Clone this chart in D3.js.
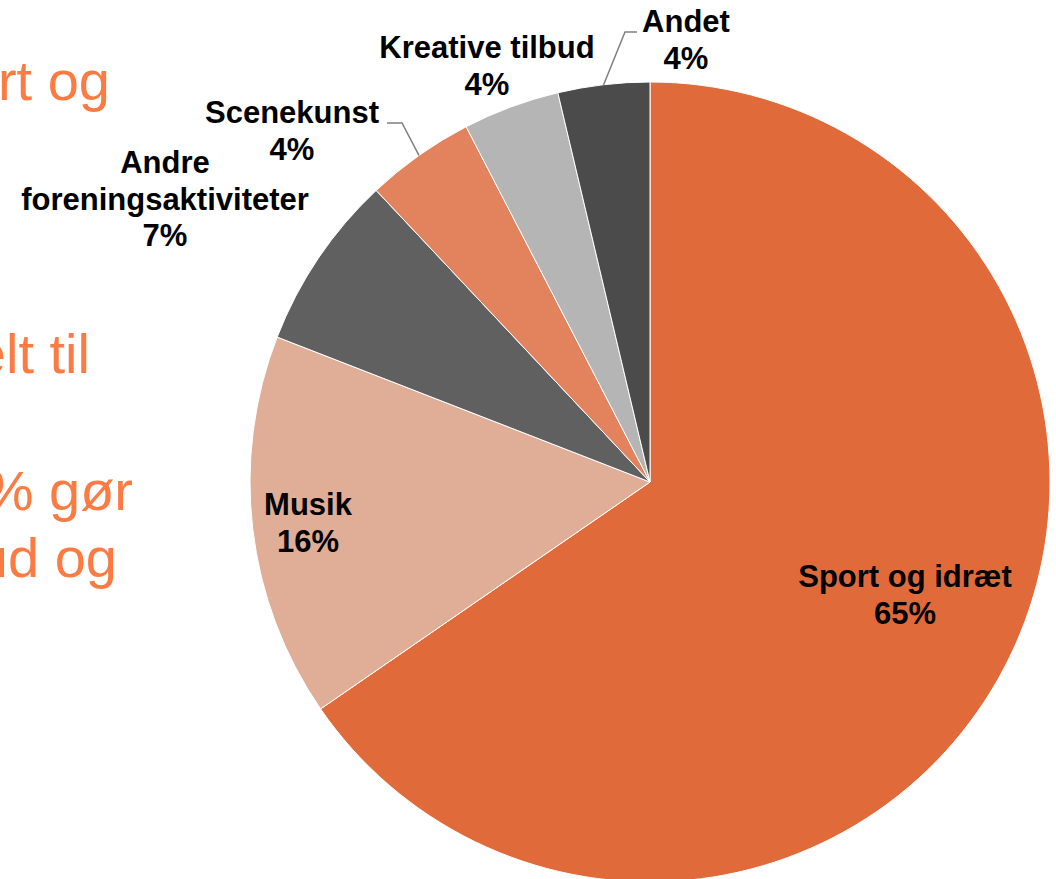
<!DOCTYPE html>
<html>
<head>
<meta charset="utf-8">
<script src="https://cdn.jsdelivr.net/npm/d3@7"></script>
<style>
  body { margin: 0; background: #fff; }
  svg { display: block; }
</style>
</head>
<body>
<svg width="1056" height="879"></svg>
<script>
// slices, clockwise from 12 o'clock
var categories = ["Sport og idræt", "Musik", "Andre foreningsaktiviteter", "Scenekunst", "Kreative tilbud", "Andet"];
var labelLines = [["Sport og idræt"], ["Musik"], ["Andre", "foreningsaktiviteter"], ["Scenekunst"], ["Kreative tilbud"], ["Andet"]];
var values = [65.4, 15.5, 7.1, 4.4, 3.9, 3.7];
var colors = ["#E06A3A", "#E0AD97", "#606060", "#E3835D", "#B5B5B5", "#4B4B4B"];

// slide text left behind the chart (clipped at the left edge)
var slideLines = ["rt og", "elt til", "% gør", "ud og"];

var svg = d3.select("svg"),
    cx = 650, cy = 482, radius = 400;

// background slide text
var slideLayout = [{x: 110, y: 100}, {x: 90, y: 373}, {x: 133, y: 510}, {x: 117, y: 577}];
svg.append("g").selectAll("text")
  .data(slideLines)
  .enter().append("text")
    .attr("x", function(d, i) { return slideLayout[i].x; })
    .attr("y", function(d, i) { return slideLayout[i].y; })
    .attr("text-anchor", "end")
    .style("font-family", "'Liberation Sans', Arial, sans-serif")
    .style("font-size", "56px")
    .style("fill", "#FB7B43")
    .text(function(d) { return d; });

var g = svg.append("g").attr("transform", "translate(" + cx + "," + cy + ")");

var pie = d3.pie().sort(null).value(function(d) { return d; });
var arcs = pie(values);
var arc = d3.arc().innerRadius(0).outerRadius(radius);

g.selectAll("path")
  .data(arcs)
  .enter().append("path")
    .attr("d", arc)
    .attr("fill", function(d, i) { return colors[i]; })
    .attr("stroke", "#fff")
    .attr("stroke-width", 1);

// label anchors (first-line baseline, relative to pie centre)
var labelAt = [[255, 105], [-342, 33], [-485, -309], [-358, -359], [-163, -424], [36, -450]];
var lineH = 36.5;

// leader lines: elbow and end, relative to pie centre
var leaders = {3: [[-248, -359], [-263, -359]], 5: [[-25, -450], [-13, -450]]};
Object.keys(leaders).forEach(function(k) {
  var a = arcs[k], mid = (a.startAngle + a.endAngle) / 2;
  var pts = [[Math.sin(mid) * radius, -Math.cos(mid) * radius]].concat(leaders[k]);
  g.append("path")
    .attr("d", d3.line()(pts))
    .attr("fill", "none")
    .attr("stroke", "#7f7f7f")
    .attr("stroke-width", 1.5);
});

var fmt = d3.format(".0f");
var lbl = g.selectAll(".lbl")
  .data(arcs)
  .enter().append("text")
    .attr("class", "lbl")
    .attr("text-anchor", "middle")
    .style("font-family", "'Liberation Sans', Arial, sans-serif")
    .style("font-weight", "bold")
    .style("font-size", "31px")
    .style("fill", "#000");

lbl.each(function(d, i) {
  var t = d3.select(this);
  var lines = labelLines[i].concat([fmt(values[i]) + "%"]);
  lines.forEach(function(s, j) {
    t.append("tspan")
      .attr("x", labelAt[i][0])
      .attr("y", labelAt[i][1] + j * lineH)
      .text(s);
  });
});
</script>
</body>
</html>
